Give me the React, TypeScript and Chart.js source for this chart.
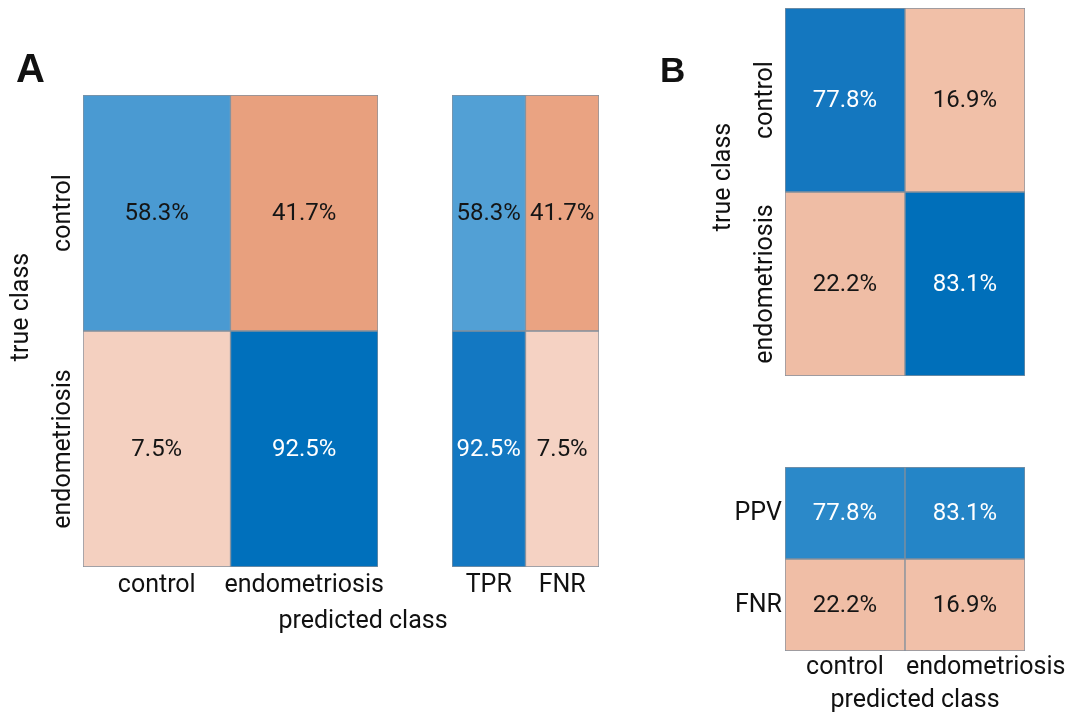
import React, { useEffect, useRef } from "react";
import { Chart, registerables } from "chart.js";

Chart.register(...registerables);

const W = 1085;
const H = 714;

// ---- data ----
const predictedClasses = ["control", "endometriosis"];
const trueClasses = ["control", "endometriosis"];
const confusionA = [
  [58.3, 41.7],
  [7.5, 92.5],
];
const rateLabelsA = ["TPR", "FNR"];
const ratesA = [
  [58.3, 41.7],
  [92.5, 7.5],
];
const confusionB = [
  [77.8, 16.9],
  [22.2, 83.1],
];
const predictiveLabelsB = ["PPV", "FNR"];
const predictiveB = [
  [77.8, 83.1],
  [22.2, 16.9],
];

// ---- styles ----
const fillsA = [
  ["#4a9ad2", "#e8a07e"],
  ["#f4d0c0", "#0070bc"],
];
const fillsA2 = [
  ["#52a0d5", "#eaa382"],
  ["#1378c2", "#f5d2c3"],
];
const fillsB = [
  ["#1477bf", "#f1c0a8"],
  ["#efbda5", "#006fba"],
];
const fillsB2 = [
  ["#2b89c9", "#2485c7"],
  ["#f0bea6", "#f1c0a9"],
];
const DARK = "#151515";
const LIGHT = "#ffffff";
const inksA = [
  [DARK, DARK],
  [DARK, LIGHT],
];
const inksA2 = [
  [DARK, DARK],
  [LIGHT, DARK],
];
const inksB = [
  [LIGHT, DARK],
  [DARK, LIGHT],
];
const inksB2 = [
  [LIGHT, LIGHT],
  [DARK, DARK],
];

const FONT = "Roboto, 'Noto Sans', sans-serif";
const WEIGHT = "400";
const TEXT = "#111111";

type Extra = {
  text: string;
  x: number;
  y: number;
  rotate?: boolean;
  align?: CanvasTextAlign;
  font: string;
};

type Panel = {
  area: [number, number, number, number];
  cols: string[];
  rows: string[] | null;
  rowMode: "rotated" | "horizontal";
  values: number[][];
  fills: string[][];
  inks: string[][];
  xTickOffset: number;
  extras: Extra[];
};

const panels: Panel[] = [
  {
    area: [83, 95, 378, 567],
    cols: predictedClasses,
    rows: trueClasses,
    rowMode: "rotated",
    values: confusionA,
    fills: fillsA,
    inks: inksA,
    xTickOffset: 25,
    extras: [
      { text: "A", x: 16, y: 82, font: `bold 40px 'Liberation Sans', Arial, sans-serif` },
      { text: "true class", x: 28, y: 307, rotate: true, font: `${WEIGHT} 25px ${FONT}` },
      { text: "predicted class", x: 363, y: 628, font: `${WEIGHT} 25px ${FONT}` },
    ],
  },
  {
    area: [452, 95, 599, 567],
    cols: rateLabelsA,
    rows: null,
    rowMode: "rotated",
    values: ratesA,
    fills: fillsA2,
    inks: inksA2,
    xTickOffset: 25,
    extras: [],
  },
  {
    area: [785, 8, 1025, 376],
    cols: [],
    rows: trueClasses,
    rowMode: "rotated",
    values: confusionB,
    fills: fillsB,
    inks: inksB,
    xTickOffset: 0,
    extras: [
      { text: "B", x: 660, y: 82, font: `bold 35px 'Liberation Sans', Arial, sans-serif` },
      { text: "true class", x: 730, y: 177, rotate: true, font: `${WEIGHT} 25px ${FONT}` },
    ],
  },
  {
    area: [785, 467, 1025, 651],
    cols: predictedClasses,
    rows: predictiveLabelsB,
    rowMode: "horizontal",
    values: predictiveB,
    fills: fillsB2,
    inks: inksB2,
    xTickOffset: 23,
    extras: [{ text: "predicted class", x: 915, y: 707, font: `${WEIGHT} 25px ${FONT}` }],
  },
];

function makeChart(canvas: HTMLCanvasElement, p: Panel) {
  const [l, t, r, b] = p.area;
  const nRows = p.values.length;
  const nCols = p.values[0].length;
  const colKeys = p.values[0].map((_, i) => p.cols[i] ?? String(i));

  const labelPlugin = {
    id: "cellLabels",
    afterDatasetsDraw(chart: any) {
      const ctx: CanvasRenderingContext2D = chart.ctx;
      const xs = chart.scales.x;
      const ys = chart.scales.y;
      ctx.save();
      // cell values
      ctx.font = `${WEIGHT} 24px ${FONT}`;
      ctx.textAlign = "center";
      ctx.textBaseline = "middle";
      chart.data.datasets.forEach((_: any, di: number) => {
        const meta = chart.getDatasetMeta(di);
        meta.data.forEach((el: any, ci: number) => {
          const v = p.values[di][ci];
          ctx.fillStyle = p.inks[di][ci];
          ctx.fillText(`${v.toFixed(1)}%`, el.x, (el.y + el.base) / 2 + 1);
        });
      });
      // x tick labels
      ctx.font = `${WEIGHT} 25px ${FONT}`;
      ctx.fillStyle = TEXT;
      ctx.textBaseline = "alphabetic";
      let prevRight = -Infinity;
      p.cols.forEach((lab, i) => {
        const w = ctx.measureText(lab).width;
        let cx = xs.getPixelForValue(i);
        if (cx - w / 2 < prevRight + 22) cx = prevRight + 22 + w / 2;
        ctx.textAlign = "center";
        ctx.fillText(lab, cx, chart.chartArea.bottom + p.xTickOffset);
        prevRight = cx + w / 2;
      });
      // y tick labels
      if (p.rows) {
        p.rows.forEach((lab, ri) => {
          const cy = ys.getPixelForValue(ri + 0.5);
          if (p.rowMode === "rotated") {
            ctx.save();
            ctx.translate(chart.chartArea.left - 13, cy);
            ctx.rotate(-Math.PI / 2);
            ctx.textAlign = "center";
            ctx.textBaseline = "alphabetic";
            ctx.fillText(lab, 0, 0);
            ctx.restore();
          } else {
            ctx.textAlign = "right";
            ctx.textBaseline = "middle";
            ctx.fillText(lab, chart.chartArea.left - 3, cy + 1);
          }
        });
      }
      // titles & panel letters
      p.extras.forEach((e) => {
        ctx.font = e.font;
        ctx.fillStyle = "#111";
        ctx.textBaseline = "alphabetic";
        if (e.rotate) {
          ctx.save();
          ctx.translate(e.x, e.y);
          ctx.rotate(-Math.PI / 2);
          ctx.textAlign = "center";
          ctx.fillText(e.text, 0, 0);
          ctx.restore();
        } else {
          ctx.textAlign = e.align ?? (e.text.length === 1 ? "left" : "center");
          ctx.fillText(e.text, e.x, e.y);
        }
      });
      ctx.restore();
    },
  };

  return new Chart(canvas, {
    type: "bar",
    data: {
      labels: colKeys,
      datasets: Array.from({ length: nRows }, (_, ri) => ({
        data: Array.from({ length: nCols }, () => [ri, ri + 1]) as any,
        backgroundColor: p.fills[ri],
        borderColor: "rgba(110,125,140,0.85)",
        borderWidth: 1,
        borderSkipped: false,
        grouped: false,
        barPercentage: 1,
        categoryPercentage: 1,
      })),
    },
    options: {
      responsive: false,
      animation: false,
      events: [],
      layout: { padding: { left: l, top: t, right: W - r, bottom: H - b } },
      plugins: {
        legend: { display: false },
        tooltip: { enabled: false },
        title: { display: false },
      },
      scales: {
        x: { display: false, offset: true },
        y: { display: false, min: 0, max: nRows, reverse: true },
      },
    },
    plugins: [labelPlugin],
  });
}

export default function App() {
  const refs = useRef<(HTMLCanvasElement | null)[]>([]);
  useEffect(() => {
    const charts = panels.map((p, i) => makeChart(refs.current[i]!, p));
    return () => charts.forEach((c) => c.destroy());
  }, []);
  return (
    <div
      style={{
        position: "absolute",
        left: 0,
        top: 0,
        width: W,
        height: H,
        background: "#ffffff",
        overflow: "hidden",
      }}
    >
      {panels.map((_, i) => (
        <canvas
          key={i}
          ref={(el) => {
            refs.current[i] = el;
          }}
          width={W}
          height={H}
          style={{ position: "absolute", left: 0, top: 0, width: W, height: H }}
        />
      ))}
    </div>
  );
}
